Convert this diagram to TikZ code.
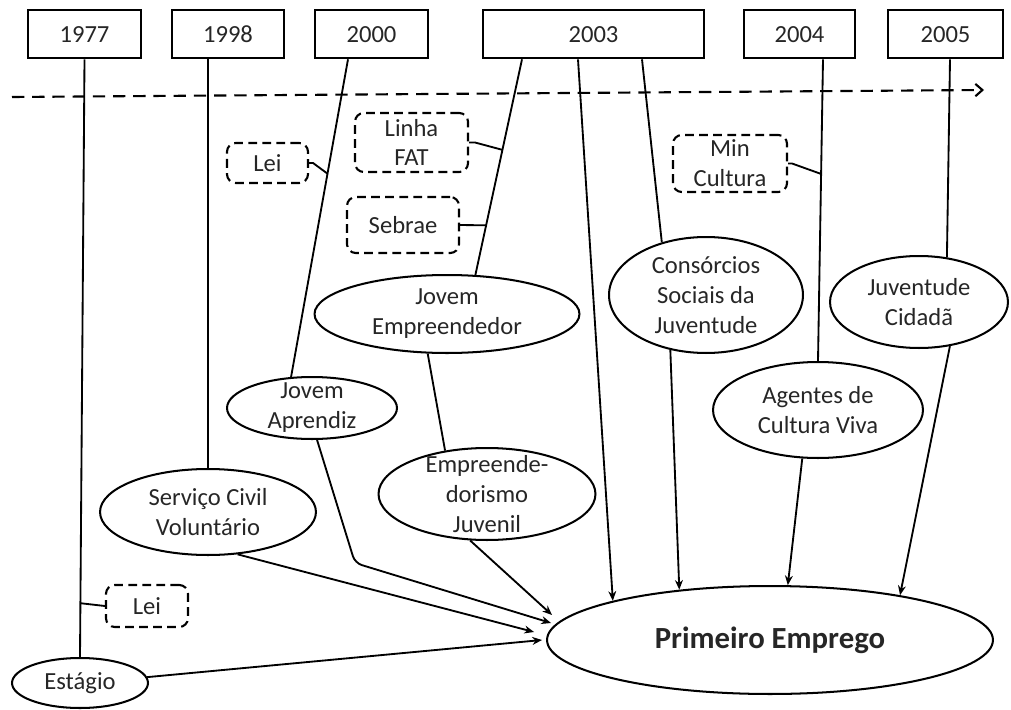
\documentclass[tikz,border=0pt]{standalone}
\usepackage{fontspec}
\setmainfont{Carlito}[Numbers=Lining]
\usetikzlibrary{shapes.geometric,arrows.meta,calc}
\begin{document}
\begin{tikzpicture}[x=0.02cm,y=-0.02cm,
  every node/.style={font=\fontsize{14}{17}\selectfont, text=black!85},
  yearbox/.style={draw, line width=1.5pt, rectangle, inner sep=0pt, minimum height=0.96cm,
                  text height=9.6pt, text depth=0pt},
  oval/.style={draw, ellipse, line width=1.15pt, inner sep=0pt},
  lbl/.style={align=center, inner sep=0pt},
  note/.style={draw, dash pattern=on 5pt off 3pt, rounded corners=5pt, line width=1.2pt,
               inner sep=0pt, align=center},
  link/.style={line width=1.05pt},
  feed/.style={link, -{Stealth[length=5.5pt,width=4.5pt]}},
  timeline/.style={line width=1.2pt, dash pattern=on 7pt off 4.5pt,
                   -{Straight Barb[length=4pt,width=7pt]}},
]
\useasboundingbox (0,0) rectangle (1011,710);

% year boxes
\node[yearbox, minimum width=2.26cm] (y1977) at (84.5,34) {1977};
\node[yearbox, minimum width=2.24cm] (y1998) at (228,34) {1998};
\node[yearbox, minimum width=2.26cm] (y2000) at (371.5,34) {2000};
\node[yearbox, minimum width=4.42cm] (y2003) at (593.5,34) {2003};
\node[yearbox, minimum width=2.22cm] (y2004) at (799.5,34) {2004};
\node[yearbox, minimum width=2.30cm] (y2005) at (945.5,34) {2005};

% time axis
\coordinate (tl0) at (12,97);
\coordinate (tl1) at (984,90);
\draw[timeline] (tl0) -- (tl1);

% programmes
\node[oval, minimum width=2.72cm, minimum height=1.0cm] (est) at (80,683) {};
\node[lbl] (est-t) at (est) {Estágio};
\node[oval, minimum width=4.32cm, minimum height=1.72cm] (svc) at (208,512) {};
\node[lbl] (svc-t) at (svc) {Serviço Civil\\Voluntário};
\node[oval, minimum width=3.4cm, minimum height=1.24cm] (apr) at (312,408) {};
\node[lbl] (apr-t) at (apr) {Jovem\\Aprendiz};
\node[oval, minimum width=5.3cm, minimum height=1.56cm] (jemp) at (447,314) {};
\node[lbl] (jemp-t) at (jemp) {Jovem\\Empreendedor};
\node[oval, minimum width=4.34cm, minimum height=1.84cm] (empj) at (487,494) {};
\node[lbl] (empj-t) at (empj) {Empreende-\\dorismo\\Juvenil};
\node[oval, minimum width=3.88cm, minimum height=2.32cm] (cons) at (706,295) {};
\node[lbl] (cons-t) at (cons) {Consórcios\\Sociais da\\Juventude};
\node[oval, minimum width=3.56cm, minimum height=1.84cm] (juv) at (919,302) {};
\node[lbl] (juv-t) at (juv) {Juventude\\Cidadã};
\node[oval, minimum width=4.2cm, minimum height=1.92cm] (agc) at (818,410) {};
\node[lbl] (agc-t) at (agc) {Agentes de\\Cultura Viva};
\node[oval, minimum width=8.92cm, minimum height=2.16cm] (pe) at (770,640) {};
\node[lbl, font=\fontsize{17.5}{20}\selectfont\bfseries] (pe-t) at (pe) {Primeiro Emprego};

% supporting bodies
\node[note, minimum width=1.62cm, minimum height=0.8cm] (leiA) at (267.5,163) {Lei};
\node[note, minimum width=2.26cm, minimum height=1.18cm] (fat) at (411.5,142.5) {Linha\\FAT};
\node[note, minimum width=2.24cm, minimum height=1.12cm] (sebrae) at (403,225) {Sebrae};
\node[note, minimum width=2.28cm, minimum height=1.14cm] (minc) at (730,163.5) {Min\\Cultura};
\node[note, minimum width=1.64cm, minimum height=0.84cm] (leiB) at (147,606) {Lei};

% start points on the year boxes
\coordinate (s2000) at ($(y2000.south)+(-23.5,0)$);
\coordinate (s2003a) at ($(y2003.south)+(-71.5,0)$);
\coordinate (s2003b) at ($(y2003.south)+(-15.5,0)$);
\coordinate (s2003c) at ($(y2003.south)+(48.5,0)$);
\coordinate (s2004) at ($(y2004.south)+(23.5,0)$);
\coordinate (s2005) at ($(y2005.south)+(4.5,0)$);

% year -> programme
\draw[link] (y1977.south) -- (est.north);
\draw[link] (y1998.south -| svc.north) -- (svc.north);
\draw[link] (s2000) -- (apr.124);
\draw[link] (s2003a) -- (jemp.54);
\draw[feed] (s2003b) -- (pe.166);
\draw[link] (s2003c) -- (cons.130);
\draw[link] (s2004) -- (agc.north);
\draw[link] (s2005) -- (juv.58);
\draw[link] (jemp.244) -- (empj.134);

% supporting bodies -> lines
\draw[link] (leiA.east) -- ++(4,0) -- ($(s2000)!0.36!(apr.124)$);
\draw[link] (fat.east) -- ++(6,0) -- ($(s2003a)!0.42!(jemp.54)$);
\draw[link] (sebrae.east) -- ($(s2003a)!0.77!(jemp.54)$);
\draw[link] (minc.east) -- ++(4,0) -- ($(s2004)!0.38!(agc.north)$);
\draw[link] (leiB.west) -- ($(y1977.south)!0.91!(est.north)$);

% programme -> Primeiro Emprego
\draw[feed] (cons.237) -- (pe.151);
\draw[feed] (agc.252) -- (pe.72);
\draw[feed] (juv.305) -- (pe.19);

\coordinate (in1) at ($(pe.west)+(6,-25)$);
\coordinate (in2) at ($(pe.west)+(5,-17)$);
\coordinate (in3) at ($(pe.west)+(-12,-8)$);
\coordinate (in4) at ($(pe.west)+(-4,0)$);
\coordinate (bend) at (355,563);
\draw[feed] (empj.250) -- (in1);
\draw[feed, rounded corners=4pt] (apr.279) -- (bend) -- (in2);
\draw[feed] (svc.305) -- (in3);
\draw[feed] (est.5) -- (in4);
\end{tikzpicture}
\end{document}
